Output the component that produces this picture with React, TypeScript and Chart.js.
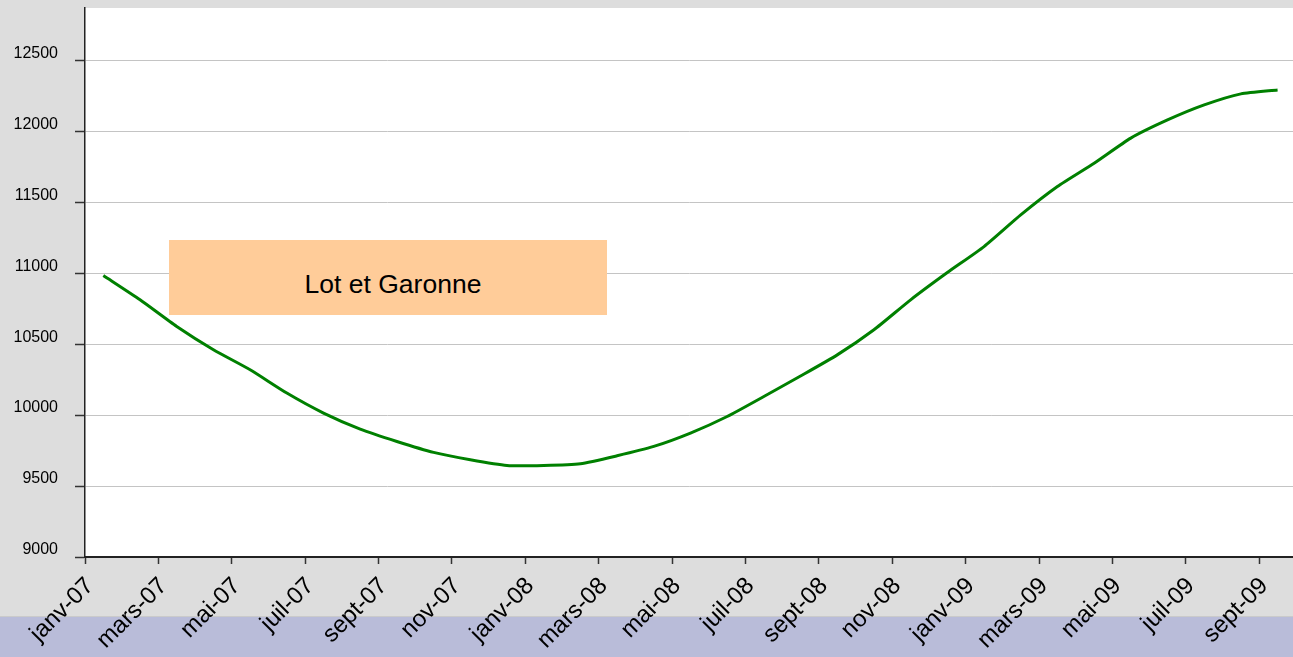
import React, { useEffect, useRef } from "react";
import { Chart, registerables } from "chart.js";

Chart.register(...registerables);

const tickLabels = [
  "janv-07", "mars-07", "mai-07", "juil-07", "sept-07", "nov-07",
  "janv-08", "mars-08", "mai-08", "juil-08", "sept-08", "nov-08",
  "janv-09", "mars-09", "mai-09", "juil-09", "sept-09",
];

const yTicks = [9000, 9500, 10000, 10500, 11000, 11500, 12000, 12500];

// monthly values, janv-07 .. sept-09 (plotted mid-month)
const values = [
  10983, 10812, 10624, 10460, 10319, 10155, 10014, 9901, 9814, 9737, 9685, 9645,
  9645, 9657, 9713, 9779, 9873, 9990, 10131, 10275, 10424, 10601, 10812, 11004,
  11187, 11410, 11610, 11774, 11951, 12079, 12185, 12263, 12291,
];

const title = "Lot et Garonne";

const W = 1293;
const H = 657;

const bgPlugin = {
  id: "bgPlugin",
  beforeDraw(chart: any) {
    const { ctx, chartArea } = chart;
    ctx.save();
    ctx.fillStyle = "#DDDDDD";
    ctx.fillRect(0, 0, W, H);
    ctx.fillStyle = "#B9BCD9";
    ctx.fillRect(0, 617, W, H - 617);
    ctx.fillStyle = "#CACACA";
    ctx.fillRect(0, 616, W, 1);
    ctx.fillStyle = "#FFFFFF";
    ctx.fillRect(chartArea.left, chartArea.top, chartArea.right - chartArea.left, chartArea.bottom - chartArea.top);
    ctx.restore();
  },
};

export default function App() {
  const ref = useRef<HTMLCanvasElement | null>(null);

  useEffect(() => {
    if (!ref.current) return;
    const data = values.map((v, i) => ({ x: i + 0.5, y: v }));
    const chart = new Chart(ref.current, {
      type: "line",
      data: {
        datasets: [
          {
            data,
            borderColor: "#008000",
            borderWidth: 3,
            pointRadius: 0,
            tension: 0.2,
            fill: false,
          },
        ],
      },
      options: {
        animation: false,
        responsive: false,
        devicePixelRatio: 1,
        layout: { padding: { top: 8, left: 0, right: 0, bottom: 0 } },
        plugins: { legend: { display: false }, tooltip: { enabled: false } },
        scales: {
          x: {
            type: "linear",
            min: 0,
            max: 32.92,
            afterBuildTicks(axis: any) {
              axis.ticks = tickLabels.map((_, i) => ({ value: i * 2 }));
            },
            afterFit(scale: any) {
              scale.height = 100;
              scale.paddingLeft = 0;
              scale.paddingRight = 0;
            },
            border: { display: true, color: "#222222", width: 2 },
            grid: {
              drawOnChartArea: false,
              drawTicks: true,
              tickLength: 7,
              tickColor: "#333333",
              tickWidth: 1.5,
            },
            ticks: {
              autoSkip: false,
              maxRotation: 45,
              minRotation: 45,
              color: "#000000",
              padding: 8,
              labelOffset: 5,
              font: { family: "'Liberation Sans', Arial, sans-serif", size: 24 },
              callback: (v: any) => tickLabels[Math.round(Number(v) / 2)] ?? "",
            },
          },
          y: {
            min: 9000,
            max: 12868,
            afterBuildTicks(axis: any) {
              axis.ticks = yTicks.map((v) => ({ value: v }));
            },
            afterFit(scale: any) {
              scale.width = 85;
              scale.paddingTop = 0;
              scale.paddingBottom = 0;
            },
            border: { display: true, color: "#222222", width: 1.5 },
            grid: {
              color: "#C4C4C4",
              lineWidth: 1,
              drawTicks: true,
              tickLength: 10,
              tickColor: "#333333",
              tickWidth: 1.5,
            },
            ticks: {
              color: "#000000",
              padding: 17,
              labelOffset: -7,
              font: { family: "'Liberation Sans', Arial, sans-serif", size: 16 },
              callback: (v: any) => String(v),
            },
          },
        },
      },
      plugins: [bgPlugin],
    });
    return () => chart.destroy();
  }, []);

  return (
    <div style={{ position: "fixed", left: 0, top: 0, width: W, height: H, overflow: "hidden" }}>
      <canvas ref={ref} width={W} height={H} style={{ display: "block", width: W, height: H }} />
      <div
        style={{
          position: "absolute",
          left: 169,
          top: 240,
          width: 438,
          height: 75,
          background: "#FFCC99",
          display: "flex",
          alignItems: "center",
          justifyContent: "center",
          boxSizing: "border-box",
          paddingTop: 13,
          paddingLeft: 10,
          fontFamily: "'Liberation Sans', Arial, sans-serif",
          fontSize: 26.5,
          color: "#000000",
        }}
      >
        {title}
      </div>
    </div>
  );
}
